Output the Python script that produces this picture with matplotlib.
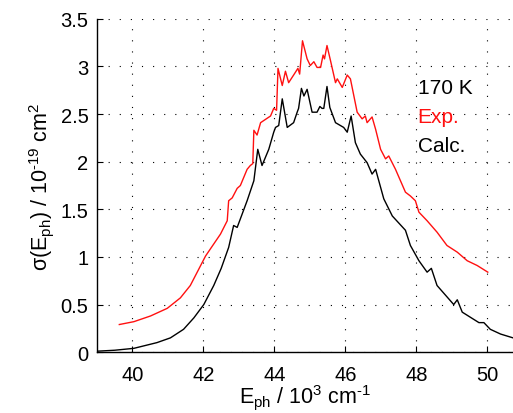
import matplotlib
matplotlib.use("Agg")
import matplotlib.pyplot as plt

plt.rcParams["font.family"] = ["Liberation Sans", "DejaVu Sans"]
plt.rcParams["mathtext.fontset"] = "custom"
plt.rcParams["mathtext.rm"] = "Liberation Sans"
plt.rcParams["mathtext.it"] = "Liberation Sans"

exp_e = [39.63, 40.04, 40.51, 40.98, 41.35, 41.63, 42.06, 42.48, 42.67, 42.71, 42.81,
         42.95, 43.04, 43.23, 43.32, 43.39, 43.42, 43.51, 43.61, 43.89, 43.98, 44.06,
         44.10, 44.22, 44.31, 44.40, 44.54, 44.66, 44.71, 44.79, 44.92, 45.01, 45.11,
         45.20, 45.30, 45.37, 45.41, 45.48, 45.58, 45.72, 45.77, 45.91, 46.05, 46.14,
         46.33, 46.47, 46.56, 46.61, 46.75, 46.85, 46.99, 47.13, 47.22, 47.41, 47.55,
         47.69, 47.83, 47.97, 48.07, 48.30, 48.58, 48.86, 49.15, 49.43, 49.71, 50.01]
exp_s = [0.29, 0.32, 0.38, 0.46, 0.57, 0.70, 1.01, 1.24, 1.38, 1.59, 1.62,
         1.72, 1.75, 1.92, 1.96, 1.98, 2.33, 2.28, 2.41, 2.48, 2.56, 2.54,
         2.98, 2.80, 2.95, 2.83, 2.91, 2.98, 2.92, 3.27, 3.08, 3.01, 3.05,
         2.99, 2.99, 3.12, 3.08, 3.22, 3.06, 2.83, 2.87, 2.78, 2.91, 2.87,
         2.52, 2.45, 2.48, 2.41, 2.47, 2.34, 2.13, 2.03, 2.06, 1.92, 1.80,
         1.68, 1.64, 1.59, 1.47, 1.38, 1.26, 1.12, 1.05, 0.96, 0.91, 0.84]

# calculated cross section
calc_e = [39.00, 39.50, 40.04, 40.69, 41.07, 41.44, 41.73, 42.01, 42.29, 42.50, 42.71,
          42.85, 42.95, 43.23, 43.42, 43.53, 43.65, 43.84, 43.98, 44.03, 44.12, 44.22,
          44.36, 44.54, 44.64, 44.68, 44.76, 44.83, 44.92, 45.06, 45.20, 45.28, 45.34,
          45.39, 45.48, 45.56, 45.72, 45.95, 46.05, 46.16, 46.28, 46.42, 46.61, 46.75,
          46.85, 47.08, 47.32, 47.69, 47.83, 48.07, 48.30, 48.42, 48.58, 49.05, 49.15,
          49.29, 49.76, 49.90, 50.08, 50.37, 50.72]
calc_s = [0.01, 0.02, 0.04, 0.10, 0.15, 0.24, 0.36, 0.50, 0.70, 0.88, 1.10,
          1.33, 1.31, 1.59, 1.80, 2.13, 1.96, 2.13, 2.31, 2.36, 2.38, 2.66,
          2.36, 2.41, 2.52, 2.56, 2.77, 2.69, 2.76, 2.52, 2.52, 2.58, 2.56,
          2.56, 2.79, 2.57, 2.41, 2.36, 2.31, 2.48, 2.20, 2.08, 1.99, 1.87,
          1.92, 1.61, 1.43, 1.28, 1.12, 0.96, 0.84, 0.88, 0.70, 0.50, 0.55,
          0.42, 0.31, 0.31, 0.24, 0.19, 0.15]

xticks = [40, 42, 44, 46, 48, 50]
yticks = [0, 0.5, 1, 1.5, 2, 2.5, 3, 3.5]
ytick_labels = ["0", "0.5", "1", "1.5", "2", "2.5", "3", "3.5"]

fig = plt.figure(figsize=(5.13, 4.14), dpi=100)
ax = fig.add_axes([0.189, 0.147, 0.811, 0.805])

ax.plot(exp_e, exp_s, color="#ff1010", lw=1.0)
ax.plot(calc_e, calc_s, color="black", lw=1.0)

ax.set_xlim(39, 50.72)
ax.set_ylim(0, 3.5)
ax.set_xticks(xticks)
ax.set_yticks(yticks)
ax.set_yticklabels(ytick_labels)
ax.tick_params(direction="in", labelsize=14.5, length=4)
ax.tick_params(axis="x", pad=9)
ax.tick_params(axis="y", pad=6)
ax.grid(True, color="black", lw=0.8, linestyle=(0, (1, 9)))
for s in ("top", "right"):
    ax.spines[s].set_visible(False)
for s in ("left", "bottom"):
    ax.spines[s].set_linewidth(1.0)

ax.set_xlabel("E$_\\mathrm{ph}$ / 10$^3$ cm$^{\u20101}$", fontsize=15.5, labelpad=-1)
ax.set_ylabel("σ(E$_\\mathrm{ph}$) / 10$^{\u201019}$ cm$^2$", fontsize=15.5, labelpad=3)

ax.text(48.03, 2.72, "170 K", fontsize=15, color="black", va="baseline", ha="left")
ax.text(48.03, 2.42, "Exp.", fontsize=15, color="#ff1010", va="baseline", ha="left")
ax.text(48.03, 2.11, "Calc.", fontsize=15, color="black", va="baseline", ha="left")

fig.savefig("out.png", dpi=100)
